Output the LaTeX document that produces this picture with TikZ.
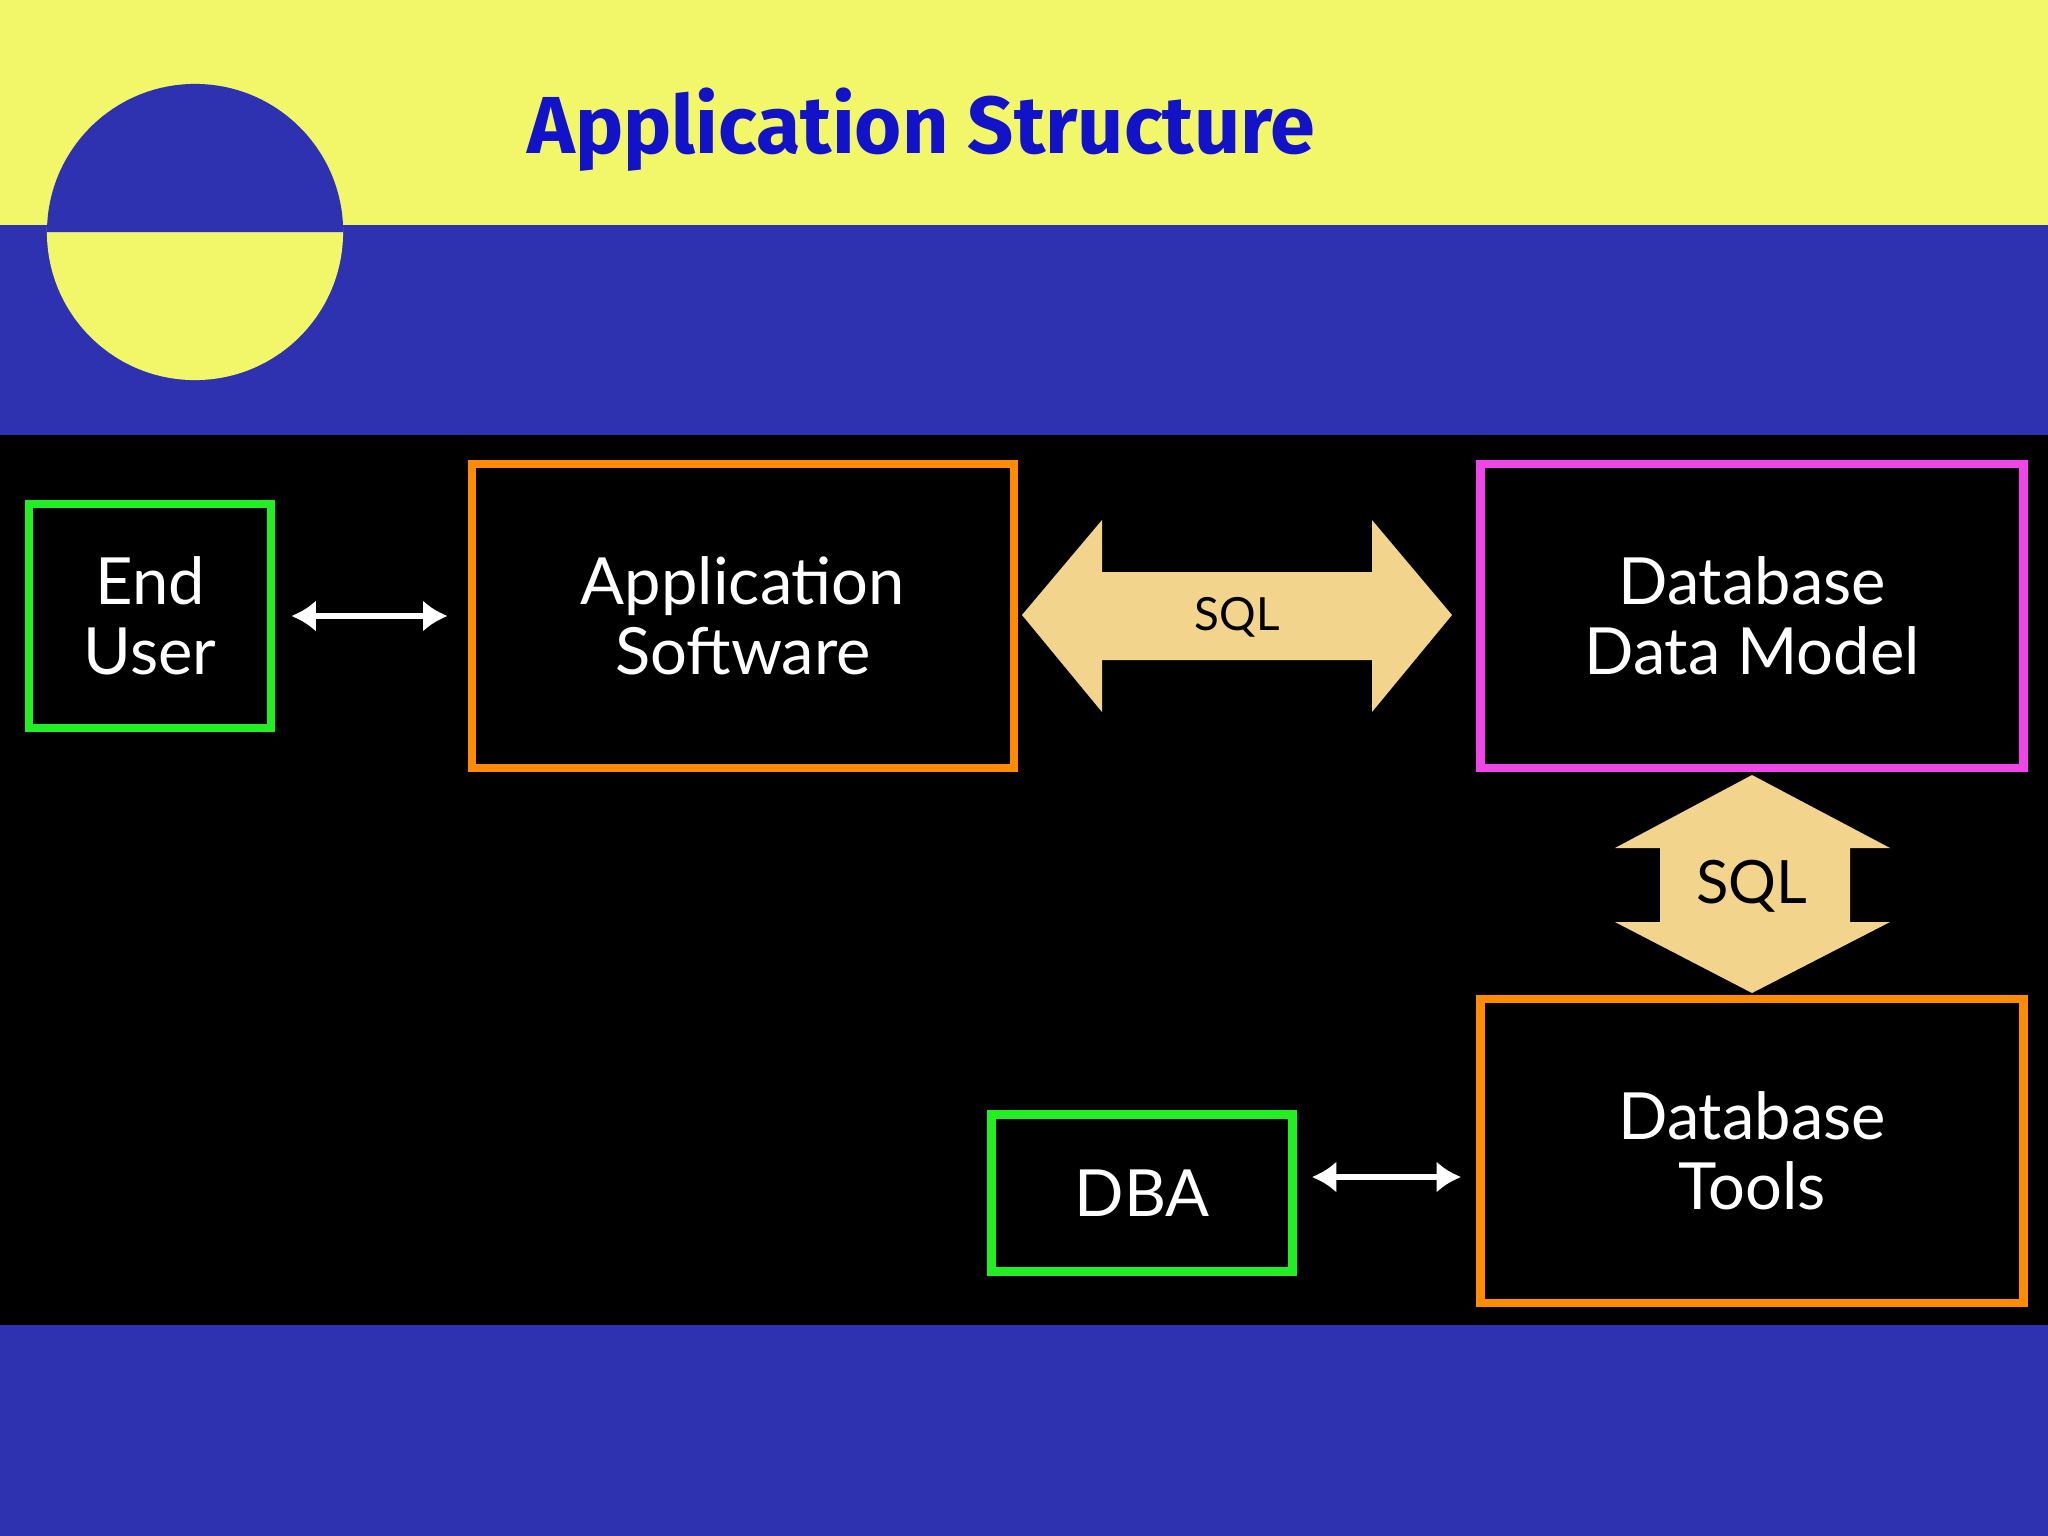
\documentclass[tikz,border=0pt]{standalone}
\usepackage{fontspec}
\setmainfont{Lato}
\newfontfamily\titlefont{Fira Sans}
\usetikzlibrary{arrows.meta,positioning}
\definecolor{bandblue}{HTML}{2E32B0}
\definecolor{bandyellow}{HTML}{F2F76A}
\definecolor{titleblue}{HTML}{1212C8}
\definecolor{boxgreen}{HTML}{22EE22}
\definecolor{boxorange}{HTML}{FF8C00}
\definecolor{boxpink}{HTML}{F045E8}
\definecolor{sqltan}{HTML}{F2D48C}
\tikzset{
  box/.style={draw, line width=2.4pt, text=white, align=center, inner sep=0pt,
    font=\fontsize{18.5}{20}\selectfont},
  link/.style={white, line width=1.6pt, {Latex[length=7pt,width=9pt]}-{Latex[length=7pt,width=9pt]}},
  fat/.style={fill=sqltan}
}
\begin{document}
\begin{tikzpicture}[x=0.01cm,y=-0.01cm]
\useasboundingbox (0,0) rectangle (2048,1536);
% background bands
\fill[bandyellow] (0,0) rectangle (2048,225);
\fill[bandblue] (0,225) rectangle (2048,435);
\fill[black] (0,435) rectangle (2048,1325);
\fill[bandblue] (0,1325) rectangle (2048,1536);
% logo
\fill[bandyellow] (195,232) circle (1.48cm);
\fill[bandblue] (47,232) arc (180:0:1.48cm) -- cycle;
\node[font=\titlefont\bfseries\fontsize{23}{28}\selectfont, text=titleblue, anchor=west] (title) at (515,130) {Application Structure};

% boxes
\node[box, draw=boxgreen, minimum width=2.42cm, minimum height=2.24cm] (user) at (150,616) {End\\User};
\node[box, draw=boxorange, minimum width=5.42cm, minimum height=3.04cm] (app) at (743,616) {Application\\Software};
\node[box, draw=boxpink, minimum width=5.43cm, minimum height=3.04cm] (model) at (1752,616) {Database\\Data Model};
\node[box, draw=boxorange, minimum width=5.43cm, minimum height=3.04cm] (tools) at (1752,1151) {Database\\Tools};
\node[box, draw=boxgreen, minimum width=3.01cm, minimum height=1.57cm] (dba) at (1142,1193) {DBA};

% white links
\draw[link, shorten <=0.16cm, shorten >=0.2cm] (user.east) -- (app.west);
\path (dba.east) ++(0,-16) coordinate (dbaout);
\draw[link, shorten <=0.15cm, shorten >=0.15cm] (dbaout) -- (dbaout -| tools.west);

% SQL fat arrows
\fill[fat] (1022,615) -- (1102,520) -- (1102,572) -- (1372,572) -- (1372,520) -- (1452,615)
  -- (1372,712) -- (1372,660) -- (1102,660) -- (1102,712) -- cycle;
\node[font=\fontsize{13}{15}\selectfont] (sqla) at (1237,617) {SQL};
\fill[fat] (1752,775) -- (1890,848) -- (1850,848) -- (1850,922) -- (1890,922) -- (1752,993)
  -- (1615,922) -- (1660,922) -- (1660,848) -- (1615,848) -- cycle;
\node[font=\fontsize{17}{19}\selectfont] (sqlb) at (1752,886) {SQL};
\end{tikzpicture}
\end{document}
